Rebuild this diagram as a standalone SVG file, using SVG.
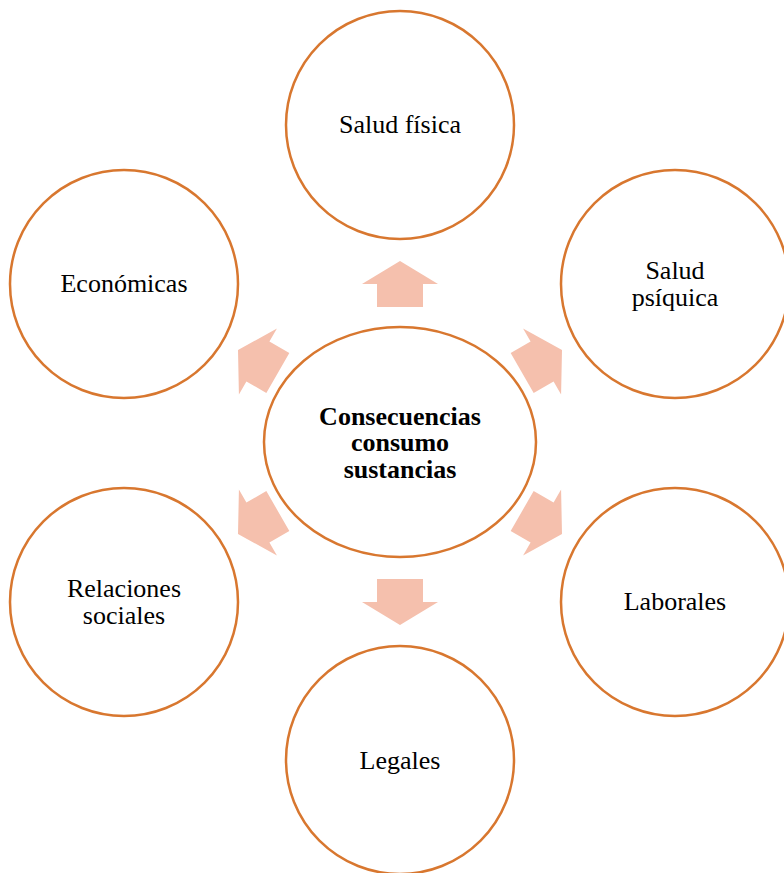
<svg xmlns="http://www.w3.org/2000/svg" width="784" height="873" viewBox="0 0 784 873">
<defs>
<style>
.node{fill:#ffffff;stroke:#D8772F;stroke-width:2.5}
.t{font-family:"Liberation Serif","Times New Roman",serif;font-size:26px;fill:#000;text-anchor:middle}
.b{font-weight:bold}
.arr{fill:#F5C0AD}
</style>
<polygon id="arrow" points="0,0 38,23 23,23 23,46 -23,46 -23,23 -38,23"/>
</defs>
<rect width="784" height="873" fill="#ffffff"/>
<g id="connectors" class="arr">
<use href="#arrow" transform="translate(400,261)"/>
<use href="#arrow" transform="translate(562,350) rotate(60)"/>
<use href="#arrow" transform="translate(562,534) rotate(120)"/>
<use href="#arrow" transform="translate(400,625) rotate(180)"/>
<use href="#arrow" transform="translate(238,534) rotate(-120)"/>
<use href="#arrow" transform="translate(238,350) rotate(-60)"/>
</g>
<g id="center">
<ellipse class="node" cx="400" cy="442" rx="136" ry="115"/>
<text class="t b" x="400" y="425">Consecuencias</text>
<text class="t b" x="400" y="451">consumo</text>
<text class="t b" x="400" y="478">sustancias</text>
</g>
<g id="salud-fisica">
<circle class="node" cx="400" cy="125" r="114"/>
<text class="t" x="400" y="133">Salud física</text>
</g>
<g id="salud-psiquica">
<circle class="node" cx="675" cy="284" r="114"/>
<text class="t" x="675" y="279">Salud</text>
<text class="t" x="675" y="306">psíquica</text>
</g>
<g id="laborales">
<circle class="node" cx="675" cy="602" r="114"/>
<text class="t" x="675" y="610">Laborales</text>
</g>
<g id="legales">
<circle class="node" cx="400" cy="760" r="114"/>
<text class="t" x="400" y="769">Legales</text>
</g>
<g id="relaciones-sociales">
<circle class="node" cx="124" cy="602" r="114"/>
<text class="t" x="124" y="597">Relaciones</text>
<text class="t" x="124" y="624">sociales</text>
</g>
<g id="economicas">
<circle class="node" cx="124" cy="284" r="114"/>
<text class="t" x="124" y="292">Económicas</text>
</g>
</svg>
